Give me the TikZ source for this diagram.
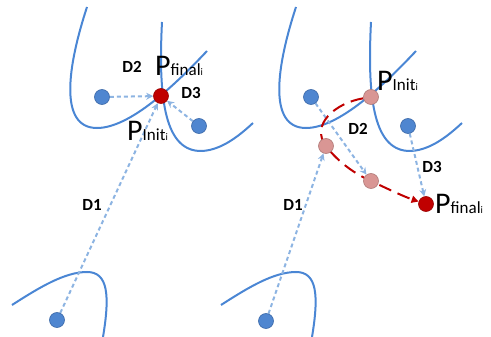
\documentclass[tikz,border=0pt]{standalone}
\usepackage{fontspec}
\setmainfont{Carlito}
\usetikzlibrary{arrows.meta}
\definecolor{curveblue}{HTML}{4A86D4}
\definecolor{dotblue}{HTML}{4F86D0}
\definecolor{dotblueborder}{HTML}{3A68A8}
\definecolor{arrowblue}{HTML}{8DB4E2}
\definecolor{darkred}{HTML}{C00000}
\definecolor{pinkdot}{HTML}{D99694}
\definecolor{pinkborder}{HTML}{B07A78}
\pgfdeclarelayer{bg}
\pgfsetlayers{bg,main}
\tikzset{
  curve/.style={curveblue, line width=2pt},
  dotbase/.style={circle, minimum size=15pt, inner sep=0pt, line width=0.6pt},
  bdot/.style={dotbase, fill=dotblue, draw=dotblueborder},
  rdot/.style={dotbase, fill=darkred, draw=darkred!80!black},
  kdot/.style={dotbase, fill=pinkdot, draw=pinkborder},
  darr/.style={arrowblue, line width=2pt, dash pattern=on 4pt off 3pt, -{Stealth[length=7pt,width=7pt]}},
  rarr/.style={darkred, line width=2pt, dash pattern=on 13pt off 7pt, -{Triangle[length=7pt,width=7pt]}},
  lbl/.style={font=\fontsize{17}{17}\selectfont\bfseries, inner sep=0pt},
  ptxt/.style={anchor=base west, inner sep=0pt},
  panelcurves/.pic={
    \draw[curve] (87,7) .. controls (68,65) and (58,128) .. (97,128) .. controls (130,128) and (175,85) .. (207,51);
    \draw[curve] (162,22) .. controls (158,100) and (165,152) .. (202,151) .. controls (222,150) and (240,135) .. (253,123);
    \draw[curve] (12,305) .. controls (40,287) and (65,272) .. (87,272) .. controls (108,272) and (110,295) .. (103,337);
  }
}
\newcommand{\Pbig}{\fontsize{30}{30}\selectfont P}
\newcommand{\Psub}[1]{\fontsize{17}{17}\selectfont #1}
\newcommand{\Psubsub}[1]{\fontsize{10}{10}\selectfont #1}
\begin{document}
\begin{tikzpicture}[x=1pt,y=-1pt]
\useasboundingbox (0,0) rectangle (491,337);
% left panel dots
\node[bdot] (b1) at (102,97) {};
\node[rdot] (r) at (161,96) {};
\node[bdot] (b2) at (199,126) {};
\node[bdot] (b0) at (57,320) {};
% right panel dots
\node[bdot] (rb1) at (311,97) {};
\node[kdot] (pinit) at (371,97) {};
\node[bdot] (rb2) at (408,126) {};
\node[bdot] (rb0) at (266,321) {};
\node[kdot] (k2) at (326,146) {};
\node[kdot] (k3) at (371,181) {};
\node[rdot] (pf) at (426,204) {};
\begin{pgfonlayer}{bg}
  \pic at (0,0) {panelcurves};
  \pic at (209,0) {panelcurves};
  \draw[darr] (b1) -- (r);
  \draw[darr] (b2) -- (r);
  \draw[darr] (b0) -- (r);
  \draw[darr] (rb0) -- (k2);
  \draw[darr] (rb1) -- (k3);
  \draw[darr] (rb2) -- (pf);
  \draw[rarr] (pinit) .. controls (335,103) and (310,125) .. (k2.center)
     .. controls (338,162) and (355,174) .. (k3.center)
     .. controls (390,190) and (405,197) .. (pf);
\end{pgfonlayer}
% labels left
\node[lbl] (l2) at (132,67) {D2};
\node[lbl] (l3) at (191,93) {D3};
\node[lbl] (l1) at (92,205) {D1};
\node[ptxt] (pfl) at (155,76) {\Pbig\Psub{final}\Psubsub{i}};
\node[ptxt] (pil) at (127,141) {\Pbig\Psub{Init}\Psubsub{i}};
% labels right
\node[lbl] (rl2) at (358,129) {D2};
\node[lbl] (rl3) at (432,167) {D3};
\node[lbl] (rl1) at (293,205) {D1};
\node[ptxt] (pir) at (377,91) {\Pbig\Psub{Init}\Psubsub{i}};
\node[ptxt] (pfr) at (435,214) {\Pbig\Psub{final}\Psubsub{i}};
\end{tikzpicture}
\end{document}
